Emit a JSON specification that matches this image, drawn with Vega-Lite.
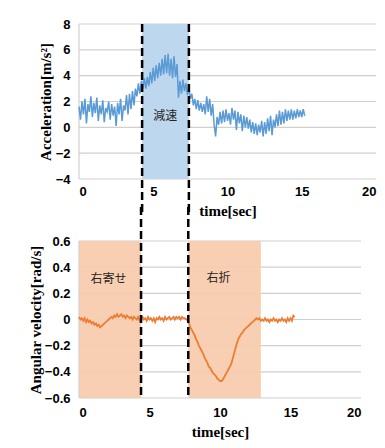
{
  "$schema": "https://vega.github.io/schema/vega-lite/v6.json",
  "padding": {"left": 28, "top": 18, "right": 5, "bottom": 5},
  "background": "white",
  "bounds": "flush",
  "spacing": 62,
  "config": {
    "view": {"stroke": null},
    "axis": {
      "labelFont": "Liberation Sans Narrow, Liberation Sans, sans-serif",
      "labelFontWeight": "bold",
      "labelFontSize": 13,
      "labelColor": "#000000",
      "labelOverlap": false,
      "titleFont": "Liberation Serif",
      "titleFontWeight": "bold",
      "titleFontSize": 15,
      "titleColor": "#000000",
      "ticks": false,
      "tickSize": 0,
      "grid": false,
      "domain": false
    }
  },
  "datasets": {
    "acc": [
      {"t":0.0,"a":1.6},{"t":0.1,"a":0.6},{"t":0.2,"a":2.0},{"t":0.3,"a":1.0},{"t":0.4,"a":2.2},{"t":0.5,"a":0.3},{"t":0.6,"a":1.8},{"t":0.7,"a":1.2},{"t":0.8,"a":2.4},{"t":0.9,"a":0.8},
      {"t":1.0,"a":1.9},{"t":1.1,"a":1.1},{"t":1.2,"a":2.3},{"t":1.3,"a":0.5},{"t":1.4,"a":1.7},{"t":1.5,"a":1.0},{"t":1.6,"a":2.1},{"t":1.7,"a":0.4},{"t":1.8,"a":1.5},{"t":1.9,"a":1.2},
      {"t":2.0,"a":2.0},{"t":2.1,"a":0.6},{"t":2.2,"a":1.8},{"t":2.3,"a":0.9},{"t":2.4,"a":1.6},{"t":2.5,"a":0.1},{"t":2.6,"a":1.9},{"t":2.7,"a":1.0},{"t":2.8,"a":2.2},{"t":2.9,"a":0.5},
      {"t":3.0,"a":1.7},{"t":3.1,"a":1.3},{"t":3.2,"a":2.5},{"t":3.3,"a":1.0},{"t":3.4,"a":2.6},{"t":3.5,"a":1.4},{"t":3.6,"a":2.8},{"t":3.7,"a":1.7},{"t":3.8,"a":3.0},{"t":3.9,"a":2.4},
      {"t":4.0,"a":3.4},{"t":4.1,"a":2.6},{"t":4.2,"a":3.6},{"t":4.3,"a":3.0},{"t":4.4,"a":3.8},{"t":4.5,"a":3.0},{"t":4.6,"a":3.9},{"t":4.7,"a":3.2},{"t":4.8,"a":4.3},{"t":4.9,"a":3.4},
      {"t":5.0,"a":4.6},{"t":5.1,"a":3.6},{"t":5.2,"a":4.8},{"t":5.3,"a":3.8},{"t":5.4,"a":5.0},{"t":5.5,"a":4.0},{"t":5.6,"a":5.3},{"t":5.7,"a":4.1},{"t":5.8,"a":5.6},{"t":5.9,"a":4.2},
      {"t":6.0,"a":5.7},{"t":6.1,"a":4.0},{"t":6.2,"a":5.3},{"t":6.3,"a":3.8},{"t":6.4,"a":5.5},{"t":6.5,"a":3.9},{"t":6.6,"a":4.9},{"t":6.7,"a":2.3},{"t":6.8,"a":3.6},{"t":6.9,"a":2.6},
      {"t":7.0,"a":3.7},{"t":7.1,"a":2.8},{"t":7.2,"a":3.4},{"t":7.3,"a":2.5},{"t":7.4,"a":3.1},{"t":7.5,"a":2.2},{"t":7.6,"a":2.6},{"t":7.7,"a":1.7},{"t":7.8,"a":2.2},{"t":7.9,"a":1.4},
      {"t":8.0,"a":2.1},{"t":8.1,"a":1.3},{"t":8.2,"a":1.9},{"t":8.3,"a":1.2},{"t":8.4,"a":1.8},{"t":8.5,"a":1.0},{"t":8.6,"a":2.4},{"t":8.7,"a":1.2},{"t":8.8,"a":2.2},{"t":8.9,"a":0.9},
      {"t":9.0,"a":1.8},{"t":9.1,"a":0.2},{"t":9.2,"a":-0.7},{"t":9.3,"a":0.8},{"t":9.4,"a":0.2},{"t":9.5,"a":1.2},{"t":9.6,"a":0.3},{"t":9.7,"a":1.3},{"t":9.8,"a":0.4},{"t":9.9,"a":1.4},
      {"t":10.0,"a":0.5},{"t":10.1,"a":1.1},{"t":10.2,"a":0.2},{"t":10.3,"a":1.5},{"t":10.4,"a":0.6},{"t":10.5,"a":1.3},{"t":10.6,"a":-0.2},{"t":10.7,"a":1.2},{"t":10.8,"a":0.3},{"t":10.9,"a":1.0},
      {"t":11.0,"a":-0.3},{"t":11.1,"a":0.9},{"t":11.2,"a":0.0},{"t":11.3,"a":0.8},{"t":11.4,"a":-0.1},{"t":11.5,"a":0.6},{"t":11.6,"a":-0.4},{"t":11.7,"a":0.4},{"t":11.8,"a":-0.5},{"t":11.9,"a":0.3},
      {"t":12.0,"a":-0.6},{"t":12.1,"a":0.2},{"t":12.2,"a":-0.4},{"t":12.3,"a":0.5},{"t":12.4,"a":-0.7},{"t":12.5,"a":0.4},{"t":12.6,"a":-0.5},{"t":12.7,"a":0.7},{"t":12.8,"a":-0.3},{"t":12.9,"a":0.9},
      {"t":13.0,"a":-0.6},{"t":13.1,"a":0.6},{"t":13.2,"a":0.0},{"t":13.3,"a":1.0},{"t":13.4,"a":0.1},{"t":13.5,"a":1.3},{"t":13.6,"a":0.2},{"t":13.7,"a":1.2},{"t":13.8,"a":0.3},{"t":13.9,"a":1.4},
      {"t":14.0,"a":0.5},{"t":14.1,"a":1.3},{"t":14.2,"a":0.6},{"t":14.3,"a":1.4},{"t":14.4,"a":0.6},{"t":14.5,"a":1.3},{"t":14.6,"a":0.7},{"t":14.7,"a":1.4},{"t":14.8,"a":0.8},{"t":14.9,"a":1.3},
      {"t":15.0,"a":0.8},{"t":15.1,"a":1.4},{"t":15.2,"a":0.9}
    ],
    "gyro": [
      {"t":0.0,"w":0.02},{"t":0.1,"w":0.00},{"t":0.2,"w":0.01},{"t":0.3,"w":-0.01},{"t":0.4,"w":0.01},{"t":0.5,"w":-0.02},{"t":0.6,"w":0.00},{"t":0.7,"w":-0.02},{"t":0.8,"w":-0.01},{"t":0.9,"w":-0.03},
      {"t":1.0,"w":-0.02},{"t":1.1,"w":-0.04},{"t":1.2,"w":-0.03},{"t":1.3,"w":-0.05},{"t":1.4,"w":-0.04},{"t":1.5,"w":-0.06},{"t":1.6,"w":-0.05},{"t":1.7,"w":-0.04},{"t":1.8,"w":-0.03},{"t":1.9,"w":-0.02},
      {"t":2.0,"w":-0.01},{"t":2.1,"w":0.00},{"t":2.2,"w":0.01},{"t":2.3,"w":0.02},{"t":2.4,"w":0.01},{"t":2.5,"w":0.03},{"t":2.6,"w":0.02},{"t":2.7,"w":0.04},{"t":2.8,"w":0.02},{"t":2.9,"w":0.03},
      {"t":3.0,"w":0.04},{"t":3.1,"w":0.02},{"t":3.2,"w":0.03},{"t":3.3,"w":0.01},{"t":3.4,"w":0.03},{"t":3.5,"w":0.02},{"t":3.6,"w":0.01},{"t":3.7,"w":0.02},{"t":3.8,"w":0.00},{"t":3.9,"w":0.02},
      {"t":4.0,"w":0.01},{"t":4.1,"w":0.00},{"t":4.2,"w":0.02},{"t":4.3,"w":-0.01},{"t":4.4,"w":0.01},{"t":4.5,"w":0.02},{"t":4.6,"w":0.00},{"t":4.7,"w":0.01},{"t":4.8,"w":-0.01},{"t":4.9,"w":0.02},
      {"t":5.0,"w":0.00},{"t":5.1,"w":0.01},{"t":5.2,"w":-0.01},{"t":5.3,"w":0.01},{"t":5.4,"w":-0.02},{"t":5.5,"w":0.01},{"t":5.6,"w":0.00},{"t":5.7,"w":0.02},{"t":5.8,"w":0.00},{"t":5.9,"w":0.01},
      {"t":6.0,"w":-0.01},{"t":6.1,"w":0.02},{"t":6.2,"w":0.00},{"t":6.3,"w":0.01},{"t":6.4,"w":0.02},{"t":6.5,"w":0.00},{"t":6.6,"w":0.01},{"t":6.7,"w":0.02},{"t":6.8,"w":0.00},{"t":6.9,"w":0.02},
      {"t":7.0,"w":0.01},{"t":7.1,"w":0.02},{"t":7.2,"w":0.00},{"t":7.3,"w":0.02},{"t":7.4,"w":0.01},{"t":7.5,"w":0.01},{"t":7.6,"w":0.00},{"t":7.7,"w":0.00},{"t":7.8,"w":-0.03},{"t":7.9,"w":-0.06},
      {"t":8.0,"w":-0.08},{"t":8.1,"w":-0.10},{"t":8.2,"w":-0.12},{"t":8.3,"w":-0.15},{"t":8.4,"w":-0.17},{"t":8.5,"w":-0.20},{"t":8.6,"w":-0.22},{"t":8.7,"w":-0.24},{"t":8.8,"w":-0.26},{"t":8.9,"w":-0.29},
      {"t":9.0,"w":-0.31},{"t":9.1,"w":-0.33},{"t":9.2,"w":-0.36},{"t":9.3,"w":-0.37},{"t":9.4,"w":-0.39},{"t":9.5,"w":-0.41},{"t":9.6,"w":-0.42},{"t":9.7,"w":-0.43},{"t":9.8,"w":-0.45},{"t":9.9,"w":-0.46},
      {"t":10.0,"w":-0.47},{"t":10.1,"w":-0.47},{"t":10.2,"w":-0.46},{"t":10.3,"w":-0.44},{"t":10.4,"w":-0.42},{"t":10.5,"w":-0.40},{"t":10.6,"w":-0.38},{"t":10.7,"w":-0.36},{"t":10.8,"w":-0.34},{"t":10.9,"w":-0.30},
      {"t":11.0,"w":-0.26},{"t":11.1,"w":-0.22},{"t":11.2,"w":-0.18},{"t":11.3,"w":-0.15},{"t":11.4,"w":-0.13},{"t":11.5,"w":-0.11},{"t":11.6,"w":-0.10},{"t":11.7,"w":-0.08},{"t":11.8,"w":-0.07},{"t":11.9,"w":-0.06},
      {"t":12.0,"w":-0.05},{"t":12.1,"w":-0.04},{"t":12.2,"w":-0.03},{"t":12.3,"w":-0.02},{"t":12.4,"w":-0.01},{"t":12.5,"w":0.00},{"t":12.6,"w":0.01},{"t":12.7,"w":0.00},{"t":12.8,"w":0.01},{"t":12.9,"w":-0.01},
      {"t":13.0,"w":0.00},{"t":13.1,"w":-0.01},{"t":13.2,"w":0.01},{"t":13.3,"w":-0.01},{"t":13.4,"w":0.00},{"t":13.5,"w":-0.02},{"t":13.6,"w":0.00},{"t":13.7,"w":-0.01},{"t":13.8,"w":0.01},{"t":13.9,"w":-0.01},
      {"t":14.0,"w":0.00},{"t":14.1,"w":-0.02},{"t":14.2,"w":0.00},{"t":14.3,"w":-0.01},{"t":14.4,"w":0.01},{"t":14.5,"w":-0.01},{"t":14.6,"w":0.00},{"t":14.7,"w":-0.02},{"t":14.8,"w":0.01},{"t":14.9,"w":-0.01},
      {"t":15.0,"w":0.01},{"t":15.1,"w":-0.01},{"t":15.2,"w":0.03},{"t":15.3,"w":0.02}
    ]
  },
  "vconcat": [
    {
      "width": 297,
      "height": 155,
      "encoding": {
        "x": {"type": "quantitative", "scale": {"domain": [0, 20], "nice": false},
          "axis": {"title": "time[sec]", "values": [0, 5, 10, 15, 20], "labelOverlap": false, "labelPadding": 6, "titlePadding": 5}},
        "y": {"type": "quantitative", "scale": {"domain": [-4, 8], "nice": false},
          "axis": {"title": "Acceleration[m/s²]", "values": [-4, -2, 0, 2, 4, 6, 8], "labelOverlap": false, "labelPadding": 9, "titlePadding": 2}}
      },
      "layer": [
        {
          "data": {"values": [{"g": -4, "x0": 0, "x1": 20}, {"g": -2, "x0": 0, "x1": 20}, {"g": 0, "x0": 0, "x1": 20}, {"g": 2, "x0": 0, "x1": 20}, {"g": 4, "x0": 0, "x1": 20}, {"g": 6, "x0": 0, "x1": 20}, {"g": 8, "x0": 0, "x1": 20}]},
          "mark": {"type": "rule", "color": "#d0d0d0", "strokeWidth": 1.2},
          "encoding": {
            "x": {"field": "x0", "type": "quantitative"},
            "x2": {"field": "x1"},
            "y": {"field": "g", "type": "quantitative"}
          }
        },
        {
          "data": {"values": [{"v": 0, "ya": 8, "yb": -4}]},
          "mark": {"type": "rule", "color": "#d0d0d0", "strokeWidth": 1.2},
          "encoding": {
            "x": {"field": "v", "type": "quantitative"},
            "y": {"field": "ya", "type": "quantitative"},
            "y2": {"field": "yb"}
          }
        },
        {
          "data": {"values": [{"x0": 4.25, "x1": 7.4, "ya": 8, "yb": -4}]},
          "mark": {"type": "rect", "color": "#BDD7EE"},
          "encoding": {
            "x": {"field": "x0", "type": "quantitative"},
            "x2": {"field": "x1"},
            "y": {"field": "ya", "type": "quantitative"},
            "y2": {"field": "yb"}
          }
        },
        {
          "data": {"name": "acc"},
          "mark": {"type": "line", "color": "#5B9BD5", "strokeWidth": 1.5},
          "encoding": {
            "x": {"field": "t", "type": "quantitative"},
            "y": {"field": "a", "type": "quantitative"}
          }
        },
        {
          "data": {"values": [{"x": 4.25, "ya": 8, "yb": -6.6}, {"x": 7.4, "ya": 8, "yb": -6.6}]},
          "mark": {"type": "rule", "color": "#000000", "strokeWidth": 2.5, "strokeDash": [8, 4]},
          "encoding": {
            "x": {"field": "x", "type": "quantitative"},
            "y": {"field": "ya", "type": "quantitative"},
            "y2": {"field": "yb"}
          }
        },
        {
          "data": {"values": [{"x": 5.8, "y": 0.87, "label": "減速"}]},
          "mark": {"type": "text", "font": "Noto Sans CJK JP", "fontSize": 12, "color": "#262626"},
          "encoding": {
            "x": {"field": "x", "type": "quantitative"},
            "y": {"field": "y", "type": "quantitative"},
            "text": {"field": "label"}
          }
        }
      ]
    },
    {
      "width": 282,
      "height": 157,
      "encoding": {
        "x": {"type": "quantitative", "scale": {"domain": [0, 20], "nice": false},
          "axis": {"title": "time[sec]", "values": [0, 5, 10, 15, 20], "labelOverlap": false, "labelPadding": 8, "titlePadding": 5}},
        "y": {"type": "quantitative", "scale": {"domain": [-0.6, 0.6], "nice": false},
          "axis": {"title": "Angular velocity[rad/s]", "values": [-0.6, -0.4, -0.2, 0, 0.2, 0.4, 0.6], "labelOverlap": false,
            "labelExpr": "datum.value == 0 ? '0' : format(datum.value, '.1f')", "labelPadding": 9, "titlePadding": 1}}
      },
      "layer": [
        {
          "data": {"values": [{"g": -0.6, "x0": 0, "x1": 20}, {"g": -0.4, "x0": 0, "x1": 20}, {"g": -0.2, "x0": 0, "x1": 20}, {"g": 0, "x0": 0, "x1": 20}, {"g": 0.2, "x0": 0, "x1": 20}, {"g": 0.4, "x0": 0, "x1": 20}, {"g": 0.6, "x0": 0, "x1": 20}]},
          "mark": {"type": "rule", "color": "#d0d0d0", "strokeWidth": 1.2},
          "encoding": {
            "x": {"field": "x0", "type": "quantitative"},
            "x2": {"field": "x1"},
            "y": {"field": "g", "type": "quantitative"}
          }
        },
        {
          "data": {"values": [{"x0": 0, "x1": 4.4, "ya": 0.6, "yb": -0.6}, {"x0": 7.75, "x1": 12.9, "ya": 0.6, "yb": -0.6}]},
          "mark": {"type": "rect", "color": "#F8CBAD", "opacity": 0.92},
          "encoding": {
            "x": {"field": "x0", "type": "quantitative"},
            "x2": {"field": "x1"},
            "y": {"field": "ya", "type": "quantitative"},
            "y2": {"field": "yb"}
          }
        },
        {
          "data": {"values": [{"v": 0, "ya": 0.6, "yb": -0.6}]},
          "mark": {"type": "rule", "color": "#d0d0d0", "strokeWidth": 1.2},
          "encoding": {
            "x": {"field": "v", "type": "quantitative"},
            "y": {"field": "ya", "type": "quantitative"},
            "y2": {"field": "yb"}
          }
        },
        {
          "data": {"name": "gyro"},
          "mark": {"type": "line", "color": "#ED7D31", "strokeWidth": 1.8},
          "encoding": {
            "x": {"field": "t", "type": "quantitative"},
            "y": {"field": "w", "type": "quantitative"}
          }
        },
        {
          "data": {"values": [{"x": 4.4, "ya": 0.86, "yb": -0.6}, {"x": 7.75, "ya": 0.86, "yb": -0.6}]},
          "mark": {"type": "rule", "color": "#000000", "strokeWidth": 2.5, "strokeDash": [8, 4]},
          "encoding": {
            "x": {"field": "x", "type": "quantitative"},
            "y": {"field": "ya", "type": "quantitative"},
            "y2": {"field": "yb"}
          }
        },
        {
          "data": {"values": [{"x": 2.1, "y": 0.31, "label": "右寄せ"}, {"x": 9.9, "y": 0.32, "label": "右折"}]},
          "mark": {"type": "text", "font": "Noto Sans CJK JP", "fontSize": 12, "color": "#262626"},
          "encoding": {
            "x": {"field": "x", "type": "quantitative"},
            "y": {"field": "y", "type": "quantitative"},
            "text": {"field": "label"}
          }
        }
      ]
    }
  ]
}
